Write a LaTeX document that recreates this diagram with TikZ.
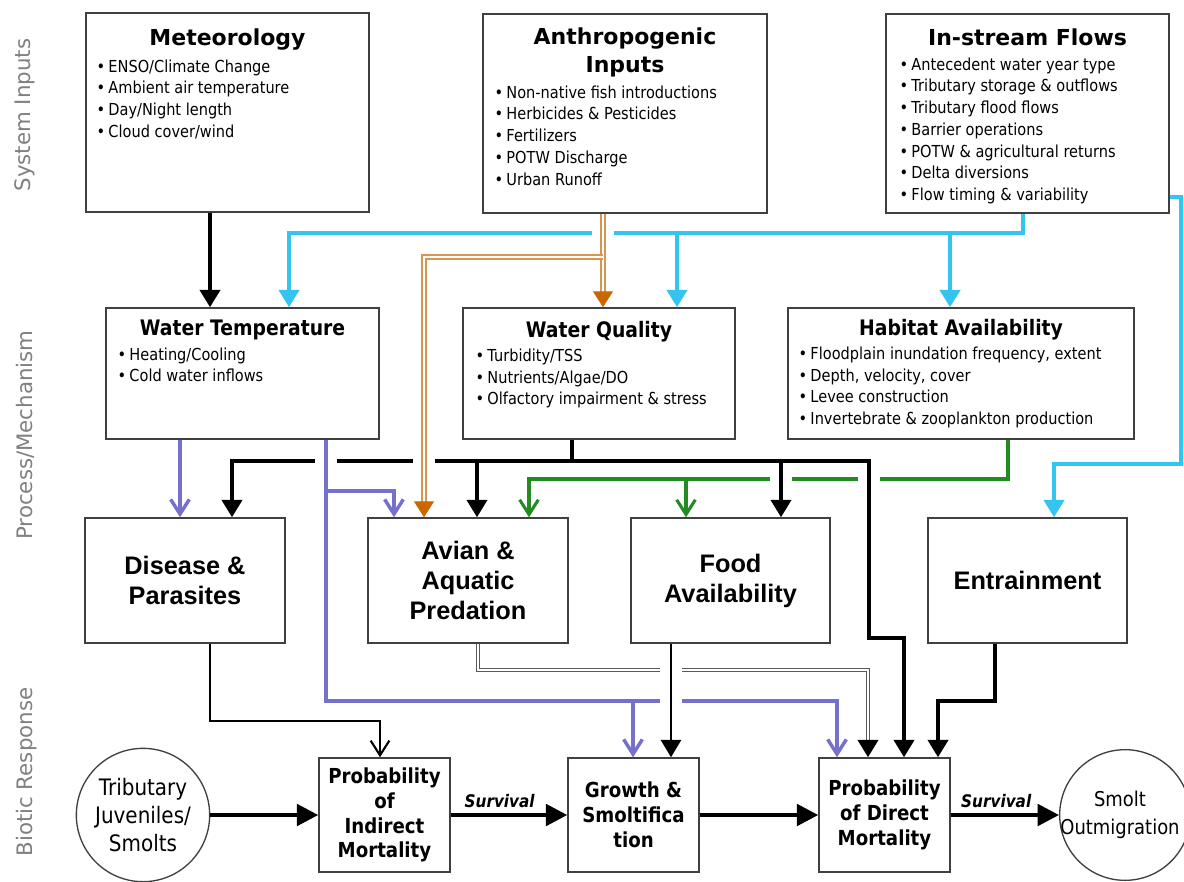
\documentclass[tikz,border=0pt]{standalone}
\usepackage{fontspec}
\setmainfont{DejaVu Sans}
\newfontfamily\tahoma[FakeStretch=0.88]{DejaVu Sans}
\newfontfamily\arialbd{Liberation Sans}
\usetikzlibrary{arrows.meta,positioning,fit}
\definecolor{skyline}{RGB}{51,196,240}
\definecolor{lavender}{RGB}{118,112,205}
\definecolor{leaf}{RGB}{34,139,34}
\definecolor{tanline}{RGB}{214,150,82}
\definecolor{rusttip}{RGB}{204,102,0}
\definecolor{sidegray}{RGB}{128,128,128}
\definecolor{boxline}{RGB}{64,64,64}
\newcommand{\blt}{\textbullet\hspace{2.5pt}}

\begin{document}
\begin{tikzpicture}[x=0.75pt, y=-0.75pt,
  box/.style={draw=boxline, line width=1.1pt, inner sep=0pt},
  roundbox/.style={circle, draw=boxline, line width=1pt, inner sep=0pt},
  hd/.style={font=\bfseries\fontsize{16.5}{21}\selectfont, align=center, inner sep=0pt},
  subhd/.style={font=\tahoma\bfseries\fontsize{16}{19}\selectfont, inner sep=0pt},
  items/.style={font=\tahoma\fontsize{12.4}{16.3}\selectfont, align=left, inner sep=0pt},
  factor/.style={font=\arialbd\bfseries\fontsize{19}{22.5}\selectfont, align=center},
  stage/.style={font=\tahoma\bfseries\fontsize{15.5}{18.6}\selectfont, align=center},
  fish/.style={font=\tahoma\fontsize{17}{21}\selectfont, align=center},
  tier/.style={rotate=90, text=sidegray, font=\fontsize{16}{19}\selectfont},
  surv/.style={font=\tahoma\bfseries\itshape\fontsize{13}{15}\selectfont, inner sep=0pt},
  fillhead/.style={-{Triangle[width=15pt,length=13pt]}},
  openhead/.style={-{Straight Barb[width=14pt,length=11pt]}},
  link/.style={draw=black, line width=2.8pt, fillhead},
  midlink/.style={draw=black, line width=2pt, fillhead},
  thinlink/.style={draw=black, line width=1.6pt, openhead},
  flowlink/.style={draw=black, line width=3pt, -{Triangle[width=16pt,length=16pt]}},
  skylink/.style={draw=skyline, line width=3pt, fillhead},
  lavlink/.style={draw=lavender, line width=2.6pt, openhead},
  leaflink/.style={draw=leaf, line width=2.3pt, openhead},
  rusthead/.style={draw=rusttip, line width=1pt, -{Triangle[width=15pt,length=12pt]}},
  tanpipe/.style={draw=tanline, double=white, line width=1pt, double distance=1.8pt},
  graypipe/.style={draw=black!65, double=white, line width=0.8pt, double distance=1.5pt},
  gapcut/.style={draw=white, line width=16pt}]

\useasboundingbox (0,0) rectangle (1184,881);

\node[tier] (sysin) at (25,115) {System Inputs};
\node[tier] (procm) at (25,435) {Process/Mechanism};
\node[tier] (biot) at (27,772) {Biotic Response};

\node[box, fit={(86,13) (369,212)}] (met) {};
\node[box, fit={(483,14) (767,213)}] (anthro) {};
\node[box, fit={(886,14) (1169,213)}] (instr) {};
\node[hd, below=12pt of met.north] (methd) {Meteorology};
\node[hd, below=10.5pt of anthro.north] (anthrohd) {Anthropogenic\\Inputs};
\node[hd, below=11.5pt of instr.north] (instrhd) {In-stream Flows};
\node[items, below right=35.25pt and 8.25pt of met.north west] (metlst)
  {\blt ENSO/Climate Change\\\blt Ambient air temperature\\\blt Day/Night length\\\blt Cloud cover/wind};
\node[items, below right=54pt and 9pt of anthro.north west] (anthrolst)
  {\blt Non-native fish introductions\\\blt Herbicides \& Pesticides\\\blt Fertilizers\\\blt POTW Discharge\\\blt Urban Runoff};
\node[items, below right=33pt and 10.5pt of instr.north west] (instrlst)
  {\blt Antecedent water year type\\\blt Tributary storage \& outflows\\\blt Tributary flood flows\\\blt Barrier operations\\\blt POTW \& agricultural returns\\\blt Delta diversions\\\blt Flow timing \& variability};

\node[box, fit={(106,308) (379,439)}] (wt) {};
\node[box, fit={(463,308) (735,439)}] (wq) {};
\node[box, fit={(788,308) (1134,439)}] (hab) {};
\node[subhd, below=9pt of wt.north] (wthd) {Water Temperature};
\node[subhd, below=10pt of wq.north] (wqhd) {Water Quality};
\node[subhd, below=9pt of hab.north] (habhd) {Habitat Availability};
\node[items, below right=30pt and 9pt of wt.north west] (wtlst)
  {\blt Heating/Cooling\\\blt Cold water inflows};
\node[items, below right=31pt and 9.75pt of wq.north west] (wqlst)
  {\blt Turbidity/TSS\\\blt Nutrients/Algae/DO\\\blt Olfactory impairment \& stress};
\node[items, below right=29.5pt and 8.25pt of hab.north west] (hablst)
  {\blt Floodplain inundation frequency, extent\\\blt Depth, velocity, cover\\\blt Levee construction\\\blt Invertebrate \& zooplankton production};

\node[box, fit={(85,518) (285,643)}] (dis) {};
\node[box, fit={(368,518) (568,643)}] (av) {};
\node[box, fit={(631,518) (830,643)}] (food) {};
\node[box, fit={(928,518) (1127,643)}] (ent) {};
\node[factor] (distxt) at (dis.center) {Disease \&\\Parasites};
\node[factor] (avtxt) at (av.center) {Avian \&\\Aquatic\\Predation};
\node[factor] (foodtxt) at (food.center) {Food\\Availability};
\node[factor] (enttxt) at (ent.center) {Entrainment};

\node[roundbox, fish, minimum size=100pt] (trib) at (143,815) {Tributary\\Juveniles/\\Smolts};
\node[box, fit={(319,758) (450,872)}] (ind) {};
\node[box, fit={(568,758) (699,872)}] (grow) {};
\node[box, fit={(819,758) (950,872)}] (dir) {};
\node[stage] (indtxt) at (ind.center) {Probability\\of\\Indirect\\Mortality};
\node[stage] (growtxt) at (grow.center) {Growth \&\\Smoltifica\\tion};
\node[stage] (dirtxt) at (dir.center) {Probability\\of Direct\\Mortality};
\node[roundbox, minimum size=98pt] (smolt) at (1125,815) {};
\node[fish, font=\tahoma\fontsize{15.3}{20.5}\selectfont, inner sep=0pt] (smolttxt) at (1120,815) {Smolt\\Outmigration};

\draw[link] (met.south -| 210,0) -- (wt.north -| 210,0);

\draw[skylink] (instr.south -| 1023,0) |- (289,233) -- (wt.north -| 289,0);
\draw[skylink] (677,233) -- (wq.north -| 677,0);
\draw[skylink] (950,233) -- (hab.north -| 950,0);
\draw[skylink] (instr.east |- 0,197) -| (1181,464) -| (ent.north -| 1054,0);

\draw[leaflink] (hab.south -| 1008,0) |- (529,479) -- (av.north -| 529,0);
\draw[leaflink] (686,479) -- (food.north -| 686,0);

\draw[gapcut] (781,474) -- (781,484);
\draw[gapcut] (869,474) -- (869,484);
\draw[gapcut] (603,228) -- (603,238);

\draw[link] (wq.south -| 572,0) |- (232,461) -- (dis.north -| 232,0);
\draw[link] (572,461) -| (869,638) -| (dir.north -| 904,0);
\draw[link] (477,461) -- (av.north -| 477,0);
\draw[link] (781,461) -- (food.north -| 781,0);

\draw[gapcut] (326,456) -- (326,466);
\draw[gapcut] (424,456) -- (424,466);

\draw[tanpipe] (anthro.south -| 603,0) -- (603,293);
\draw[rusthead] (603,292) -- (wq.north -| 603,0);
\draw[tanpipe] (603,257) -| (424,503);
\draw[rusthead] (424,502) -- (av.north -| 424,0);

\draw[lavlink] (wt.south -| 180,0) -- (dis.north -| 180,0);
\draw[lavlink] (wt.south -| 326,0) |- (837,701) -- (dir.north -| 837,0);
\draw[lavlink] (326,491) -| (av.north -| 394,0);
\draw[lavlink] (633,701) -- (grow.north -| 633,0);

\draw[graypipe] (av.south -| 478,0) |- (868,670) -- (868,743);
\draw[link] (868,742) -- (dir.north -| 868,0);

\draw[gapcut] (671,665) -- (671,675);
\draw[gapcut] (671,696) -- (671,706);

\draw[midlink] (food.south -| 671,0) -- (grow.north -| 671,0);
\draw[link] (ent.south -| 995,0) |- (938,701) -- (dir.north -| 938,0);
\draw[thinlink] (dis.south -| 210,0) |- (380,721) -- (ind.north -| 380,0);

\draw[flowlink] (trib.east) -- (ind.west);
\draw[flowlink] (ind.east) -- node[surv, pos=0.42, above=4pt] {Survival} (grow.west);
\draw[flowlink] (grow.east) -- (dir.west);
\draw[flowlink] (dir.east) -- node[surv, pos=0.42, above=4pt] {Survival} (smolt.west);

\end{tikzpicture}
\end{document}
